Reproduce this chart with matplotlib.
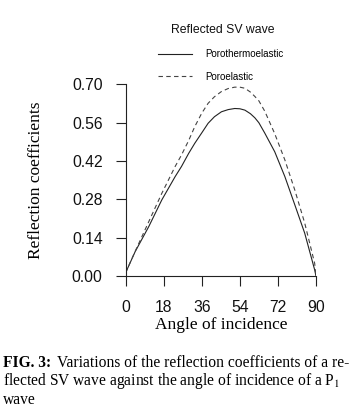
import matplotlib
matplotlib.use("Agg")
import matplotlib.pyplot as plt

# angle of incidence (deg) and reflection coefficients
angles = [0, 4.5, 10.9, 17.1, 23.4, 26.4, 29.8, 32.7, 36, 39, 42, 45.3, 48.5, 51.6, 54,
          56.4, 59, 61.1, 63, 65.8, 70.5, 75.3, 80, 84.7, 89.4, 90]
porothermo = [0.012, 0.089, 0.18, 0.278, 0.363, 0.40, 0.448, 0.485, 0.523, 0.558, 0.582, 0.60,
              0.608, 0.612, 0.611, 0.606, 0.593, 0.578, 0.56, 0.522, 0.454, 0.363, 0.26,
              0.156, 0.022, 0.0]
poroelastic = [0.012, 0.09, 0.198, 0.302, 0.40, 0.442, 0.495, 0.546, 0.595, 0.631, 0.655, 0.674,
               0.685, 0.69, 0.69, 0.686, 0.672, 0.656, 0.64, 0.602, 0.52, 0.424, 0.314,
               0.193, 0.046, 0.0]
xticks = [0, 18, 36, 54, 72, 90]
yticks = [0.00, 0.14, 0.28, 0.42, 0.56, 0.70]

plt.rcParams['mathtext.fontset'] = 'stix'
sans = 'Liberation Sans'
serif = 'Liberation Serif'

fig = plt.figure(figsize=(3.57, 4.2), dpi=100)
ax = fig.add_axes([0.352, 0.343, 0.533, 0.456])

ax.plot(angles, porothermo, color='#222222', lw=0.8, label='Porothermoelastic')
ax.plot(angles, poroelastic, color='#444444', lw=0.8, ls=(0, (4, 3)), label='Poroelastic')

ax.set_xlim(0, 90)
ax.set_ylim(0, 0.7)
ax.set_xticks(xticks)
ax.set_yticks(yticks)
ax.set_yticklabels(['%.2f' % v for v in yticks])
for s in ['top', 'right']:
    ax.spines[s].set_visible(False)
for s in ['left', 'bottom']:
    ax.spines[s].set_linewidth(0.8)
    ax.spines[s].set_color('#222222')
ax.tick_params(direction='out', length=7, width=0.8, color='#222222')
ax.tick_params(axis='y', pad=9.5)
ax.tick_params(axis='x', pad=10)
for lab in ax.get_xticklabels() + ax.get_yticklabels():
    lab.set_fontfamily(sans)
    lab.set_fontsize(11.3)
    lab.set_color('#111111')

ax.set_xlabel('Angle of incidence', family=serif, fontsize=12.5)
ax.set_ylabel('Reflection coefficients', family=serif, fontsize=12.5)
ax.xaxis.set_label_coords(0.5, -0.215)
ax.yaxis.set_label_coords(-0.43, 0.5)

fig.text(0.625, 0.929, 'Reflected SV wave', family=sans, fontsize=8.8,
         ha='center', va='center', color='#111111')
ax.legend(loc='upper left', bbox_to_anchor=(0.442, 0.883), bbox_transform=fig.transFigure,
          frameon=False, prop={'family': sans, 'size': 7}, handlelength=3.5,
          handletextpad=1.4, labelspacing=1.3, borderpad=0, borderaxespad=0)

# caption
cap_size = 11.2
y1, y2, y3 = 0.135, 0.094, 0.048
bold = fig.text(0.008, y1, 'FIG. 3:', family=serif, fontsize=cap_size, weight='bold', va='center')
r = fig.canvas.get_renderer()
bb = bold.get_window_extent(r)
x_after = (bb.x1 + 6) / fig.bbox.width
fig.text(x_after, y1, 'Variations of the reflection coefficients of a re-',
         family=serif, fontsize=cap_size, va='center')
fig.text(0.008, y2, r'flected SV wave against the angle of incidence of a P$_1$',
         family=serif, fontsize=cap_size, va='center')
fig.text(0.008, y3, 'wave', family=serif, fontsize=cap_size, va='center')

fig.savefig('out.png', dpi=100)
